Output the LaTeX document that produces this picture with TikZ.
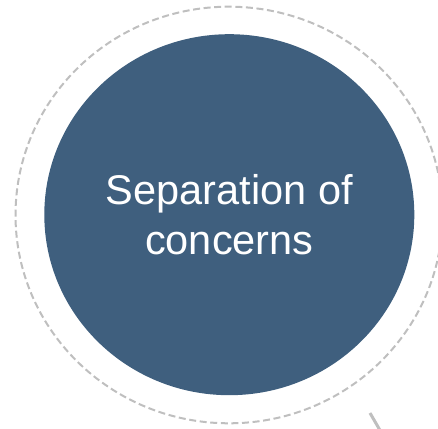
\documentclass[tikz,border=0pt]{standalone}
\usepackage{fontspec}
\setmainfont{Liberation Sans}
\usetikzlibrary{shapes.geometric}
\definecolor{discblue}{HTML}{3F5F7E}
\definecolor{ringgray}{HTML}{BFBFBF}
\tikzset{
  ring/.style={draw=ringgray, line width=2pt, dash pattern=on 7pt off 3.6pt},
  disc/.style={ellipse, fill=discblue, draw=none, minimum width=370pt, minimum height=361pt, inner sep=0pt,
    text=white, align=center, font=\fontsize{41.5pt}{50pt}\selectfont},
  link/.style={draw=ringgray, line width=3pt}
}
\begin{document}
\begin{tikzpicture}[x=1pt,y=1pt]
\useasboundingbox (0,0) rectangle (438,428);
\draw[ring] (229,213) ellipse [x radius=213.5, y radius=208.3];
\node[disc] (soc) at (229.3,213.3) {Separation of\\concerns};
\coordinate (la) at (370,15);
\coordinate (lb) at (381,-4);
\draw[link] (la) -- (lb);
\end{tikzpicture}
\end{document}
